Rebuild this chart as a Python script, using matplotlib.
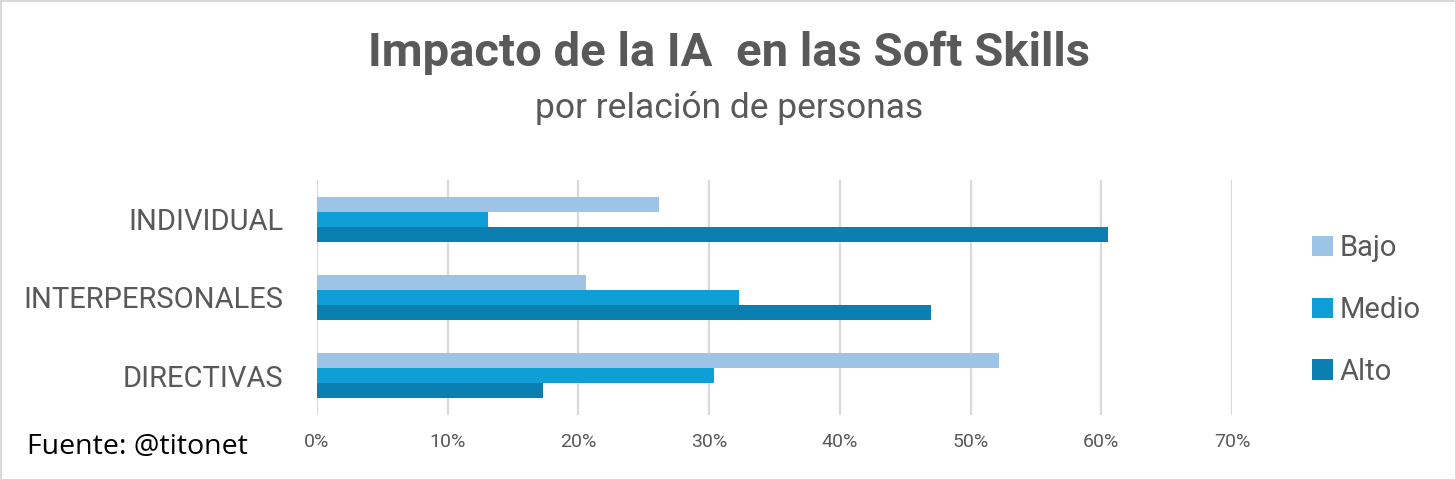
import matplotlib.pyplot as plt
import numpy as np

categories = ['INDIVIDUAL', 'INTERPERSONALES', 'DIRECTIVAS']
series = ['Bajo', 'Medio', 'Alto']
bajo = [26.2, 20.6, 52.2]
medio = [13.1, 32.3, 30.4]
alto = [60.5, 47.0, 17.3]
ticks = [0, 10, 20, 30, 40, 50, 60, 70]

colors = ['#9DC3E6', '#0F9ED5', '#0B7FAF']
grey = '#595959'
narrow = ['Roboto', 'DejaVu Sans']

fig = plt.figure(figsize=(14.56, 4.8), dpi=100)
fig.patch.set_edgecolor('#D9D9D9')
fig.patch.set_linewidth(2)
ax = fig.add_axes([317 / 1456, 1 - 415 / 480, 915 / 1456, 235 / 480])

y = np.arange(len(categories))
h = 0.192
for i, (vals, name) in enumerate(zip([bajo, medio, alto], series)):
    ax.barh(y + (i - 1) * h, vals, height=h, color=colors[i], label=name)

ax.set_xlim(0, 70)
ax.set_ylim(2.5, -0.5)
ax.set_xticks(ticks)
ax.set_xticklabels([f'{t}%' for t in ticks], family=narrow, fontsize=14, color=grey)
ax.set_yticks(y)
ax.set_yticklabels(categories, family=narrow, fontsize=21, color=grey)
ax.tick_params(axis='x', length=0, pad=13)
ax.tick_params(axis='y', length=0, pad=24)
ax.grid(axis='x', color='#D9D9D9', linewidth=1.6)
ax.set_axisbelow(True)
for s in ax.spines.values():
    s.set_visible(False)

fig.text(729 / 1456, 1 - 53 / 480, 'Impacto de la IA  en las Soft Skills', ha='center', va='center',
         family=narrow, fontweight='bold', fontsize=34, color=grey)
fig.text(729 / 1456, 1 - 108 / 480, 'por relación de personas', ha='center', va='center',
         family=narrow, fontsize=25.5, color=grey)
fig.text(27 / 1456, 1 - 447 / 480, 'Fuente: @titonet', ha='left', va='center',
         family=['Open Sans', 'DejaVu Sans'], fontsize=20.5, color='black')

leg = fig.legend(loc='center left', bbox_to_anchor=(1286 / 1456, 1 - 310 / 480), frameon=False,
                 prop={'family': narrow, 'size': 21}, handlelength=0.7, handleheight=0.7,
                 labelspacing=1.15, handletextpad=0.25)
for t in leg.get_texts():
    t.set_color(grey)

fig.savefig('out.png', dpi=100)
